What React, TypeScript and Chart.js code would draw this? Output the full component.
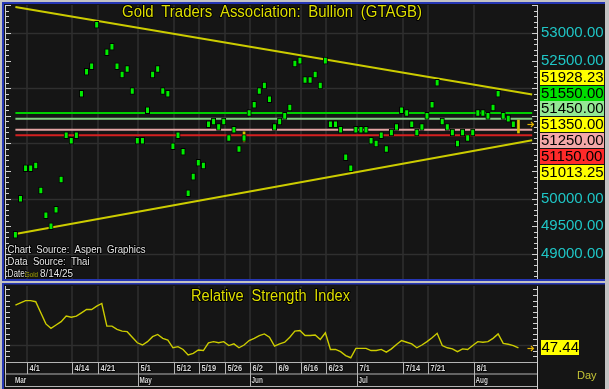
import { useEffect, useRef } from 'react';
import { Chart, registerables } from 'chart.js';

Chart.register(...registerables);

const FONT = '"Liberation Sans", Arial, sans-serif';

// ---------- DATA ----------
const dates = [
  '3/28', '3/31',
  '4/1', '4/2', '4/3', '4/4', '4/7', '4/8', '4/9', '4/10', '4/11', '4/14', '4/15', '4/16', '4/17', '4/18',
  '4/21', '4/22', '4/23', '4/24', '4/25', '4/28', '4/29', '4/30',
  '5/1', '5/2', '5/5', '5/6', '5/7', '5/8', '5/9', '5/12', '5/13', '5/14', '5/15', '5/16',
  '5/19', '5/20', '5/21', '5/22', '5/23', '5/26', '5/27', '5/28', '5/29', '5/30',
  '6/2', '6/3', '6/4', '6/5', '6/6', '6/9', '6/10', '6/11', '6/12', '6/13',
  '6/16', '6/17', '6/18', '6/19', '6/20', '6/23', '6/24', '6/25', '6/26', '6/27', '6/30',
  '7/1', '7/2', '7/3', '7/4', '7/7', '7/8', '7/9', '7/10', '7/11', '7/14', '7/15', '7/16', '7/17', '7/18',
  '7/21', '7/22', '7/23', '7/24', '7/25', '7/28', '7/29', '7/30', '7/31',
  '8/1', '8/4', '8/5', '8/6', '8/7', '8/8', '8/11', '8/12', '8/13', '8/14',
];

const askPrices = [
  49400, 50050, 50600, 50600, 50650, 50200, 49750, 49550, 49850, 50400,
  51200, 51100, 51200, 51950, 52350, 52450, 53200, null, 52700, 52800,
  52450, 52300, 52400, 52000, 51100, 51100, 51650, 52300, 52400, 52000,
  51950, 51000, 51200, 50900, 50150, 50450, 50700, 50650, 51400, 51450,
  51350, 51450, 51150, 51300, 50950, 51150, 51600, 51750, 52000, 52100,
  51850, 51350, 51450, 51550, 51700, 52500, 52550, 52200, 52200, 52300,
  52100, 52550, 51400, 51400, 51300, 50800, 50600, 51300, 51300, 51300,
  51100, 51050, 51200, 50950, 51250, 51350, 51650, 51600, 51400, 51250,
  51350, 51550, 51750, 52150, 51450, 51350, 51250, 51050, 51250, 51150,
  51250, 51600, 51600, 51550, 51700, 51950, 51550, 51500, 51400, null,
];

const bidPrices = [
  49300, 49950, 50500, 50500, 50550, 50100, 49650, 49450, 49750, 50300,
  51100, 51000, 51100, 51850, 52250, 52350, 53100, null, 52600, 52700,
  52350, 52200, 52300, 51900, 51000, 51000, 51550, 52200, 52300, 51900,
  51850, 50900, 51100, 50800, 50050, 50350, 50600, 50550, 51300, 51350,
  51250, 51350, 51050, 51200, 50850, 51050, 51500, 51650, 51900, 52000,
  51750, 51250, 51350, 51450, 51600, 52400, 52450, 52100, 52100, 52200,
  52000, 52450, 51300, 51300, 51200, 50700, 50500, 51200, 51200, 51200,
  51000, 50950, 51100, 50850, 51150, 51250, 51550, 51500, 51300, 51150,
  51250, 51450, 51650, 52050, 51350, 51250, 51150, 50950, 51150, 51050,
  51150, 51500, 51500, 51450, 51600, 51850, 51450, 51400, 51300, null,
];

// thin range marks (date, low, high)
const rangeDates = ['5/30', '8/14'];
const rangeLows = [51030, 51190];
const rangeHighs = [51210, 51425];

const rsiValues = [
  86, 88, 90, 90, 89, 79, 69, 65, 68, 71,
  76, 75, 76, 79, 82, 82, 85, 87.4, 67, 67,
  64, 62.5, 62, 57, 52, 50, 53, 57.5, 59.5, 56,
  54.5, 47.5, 48.5, 46, 41, 42.5, 45.5, 45, 52, 53,
  52, 53, 49.5, 51, 47.5, 50, 54, 56, 58.5, 60,
  57, 49, 51, 52.5, 57, 62.5, 63, 58.5, 58.5, 59,
  55, 61, 46, 46, 44, 40.5, 38.5, 47, 47, 47,
  45, 45, 46, 43.5, 46.5, 50.5, 54, 52.5, 51, 47.5,
  50, 53, 56.5, 60.5, 49.5, 47.5, 46.5, 44, 46.5, 46,
  49.5, 53, 52.5, 53, 56, 60, 51.5, 50.7, 49.5, 47.44,
];

const upperTrend = [53470, 51928.23]; // value at first date, value at last date
const lowerTrend = [49362, 51013.25];
const levelValues = [51550, 51450, 51250, 51150];
const lastPrice = 51350;
const lastRsi = 47.44;

const priceLabelValues = [51928.23, 51550, 51450, 51350, 51250, 51150, 51013.25];
const axisLabelValues = [49000, 49500, 50000, 50500, 51000, 51500, 52000, 52500, 53000];
const gridValues = [49000, 50000, 51000, 52000, 53000];
const rsiTickValues = [40, 45, 50, 55, 60, 65, 70, 75, 80, 85, 90, 95, 100];

const dayTickLabels = ['4/1', '4/14', '4/21', '5/1', '5/12', '5/19', '5/26', '6/2', '6/9', '6/16', '6/23', '7/1', '7/14', '7/21', '8/1'];
const monthTickLabels = ['Mar', 'May', 'Jun', 'Jul', 'Aug'];
const monthTickDates = ['3/28', '5/1', '6/2', '7/1', '8/1'];

// ---------- STYLE ----------
const FRAME_GRAY = '#c3c3c3';
const FRAME_BLUE = '#2536b4';
const PANEL_BG = '#151515';
const GRID = '#2f2f2f';
const AXIS = '#d0d0d0';
const TREND = '#cccc00';
const levelColors = ['#00d000', '#86cc86', '#e4a4a4', '#d42020'];
const priceLabelColors = ['#ffff00', '#00dd00', '#94e894', '#ffff00', '#f4a8a8', '#ff2a2a', '#ffff00'];

const X_MIN = -1.85;
const X_MAX = 102.65;
const LINE_END = 101.7;
const lastIndex = dates.length - 1;

function trendPoints(v: number[]) {
  const slope = (v[1] - v[0]) / lastIndex;
  return [
    { x: 0, y: v[0] },
    { x: LINE_END, y: v[0] + slope * LINE_END },
  ];
}

function drawText(ctx: any, text: string, x: number, y: number, opts: any) {
  ctx.save();
  ctx.font = `${opts.weight || ''} ${opts.size}px ${FONT}`.trim();
  ctx.textBaseline = 'middle';
  ctx.textAlign = opts.align || 'left';
  if (opts.wordSpacing) (ctx as any).wordSpacing = opts.wordSpacing;
  const w = ctx.measureText(text).width;
  let sx = opts.scale || 1;
  if (opts.width) sx = opts.width / w;
  ctx.translate(x, y);
  ctx.scale(sx, 1);
  if (opts.stroke) {
    ctx.strokeStyle = opts.stroke;
    ctx.lineWidth = opts.strokeWidth || 2.5;
    ctx.lineJoin = 'round';
    ctx.strokeText(text, 0, 0);
  }
  ctx.fillStyle = opts.color;
  ctx.fillText(text, 0, 0);
  ctx.restore();
}

function hLine(ctx: any, x1: number, x2: number, y: number) {
  ctx.beginPath();
  ctx.moveTo(x1, y);
  ctx.lineTo(x2, y);
  ctx.stroke();
}
function vLine(ctx: any, x: number, y1: number, y2: number) {
  ctx.beginPath();
  ctx.moveTo(x, y1);
  ctx.lineTo(x, y2);
  ctx.stroke();
}
function arrow(ctx: any, x: number, y: number) {
  ctx.save();
  ctx.strokeStyle = '#e4b400';
  ctx.lineWidth = 1.2;
  hLine(ctx, x, x + 6, y);
  ctx.beginPath();
  ctx.moveTo(x + 3.5, y - 2.5);
  ctx.lineTo(x + 6, y);
  ctx.lineTo(x + 3.5, y + 2.5);
  ctx.stroke();
  ctx.restore();
}

const mainDecor = {
  id: 'mainDecor',
  beforeDraw(chart: any) {
    const { ctx, width, height, chartArea: ca } = chart;
    const x = chart.scales.x;
    const y = chart.scales.y;
    ctx.save();
    ctx.fillStyle = FRAME_GRAY;
    ctx.fillRect(0, 0, width, height);
    ctx.fillStyle = FRAME_BLUE;
    ctx.fillRect(2, 2, width - 6, height - 3);
    ctx.fillStyle = PANEL_BG;
    ctx.fillRect(4, 4, width - 8, height - 7);
    ctx.strokeStyle = GRID;
    ctx.lineWidth = 1.5;
    gridValues.forEach((v) => hLine(ctx, ca.left, ca.right, Math.round(y.getPixelForValue(v)) + 0.5));
    dayTickLabels.forEach((d) => vLine(ctx, Math.round(x.getPixelForValue(dates.indexOf(d))) + 1, ca.top, ca.bottom));
    ctx.restore();
  },
  afterDatasetsDraw(chart: any) {
    const { ctx, chartArea: ca } = chart;
    const x = chart.scales.x;
    const y = chart.scales.y;
    ctx.save();
    ctx.strokeStyle = AXIS;
    ctx.lineWidth = 1;
    vLine(ctx, ca.left - 0.5, ca.top, ca.bottom);
    vLine(ctx, ca.right + 0.5, ca.top, ca.bottom);
    for (let v = 48600; v <= 53500; v += 100) {
      const py = Math.round(y.getPixelForValue(v)) + 0.5;
      const len = v % 500 === 0 ? 5 : 3;
      hLine(ctx, ca.left, ca.left + len, py);
      hLine(ctx, ca.right - len, ca.right, py);
    }
    ctx.restore();

    const anchor = priceLabelValues.indexOf(lastPrice);
    const pos: number[] = priceLabelValues.map((v) => y.getPixelForValue(v));
    for (let i = anchor - 1; i >= 0; i--) pos[i] = Math.min(pos[i], pos[i + 1] - 15.5);
    for (let i = anchor + 1; i < pos.length; i++) pos[i] = Math.max(pos[i], pos[i - 1] + 16);

    axisLabelValues.forEach((v) => {
      const py = y.getPixelForValue(v);
      if (pos.every((p) => Math.abs(p - py) > 10)) {
        drawText(ctx, v.toFixed(2), ca.right + 4, py, { size: 15, color: '#1fc6c6' });
      }
    });
    priceLabelValues.forEach((v, i) => {
      ctx.fillStyle = priceLabelColors[i];
      ctx.fillRect(ca.right + 3, Math.round(pos[i] - 7.5), 64, 15);
      drawText(ctx, v.toFixed(2), ca.right + 4, pos[i] + 0.5, { size: 15, color: '#000' });
    });

    arrow(ctx, x.getPixelForValue(lastIndex) + 9, Math.round(y.getPixelForValue(lastPrice)) + 0.5);

    drawText(ctx, 'Gold Traders Association: Bullion (GTAGB)', 272, 12.5, {
      size: 17, color: '#dede00', width: 300, align: 'center', wordSpacing: '4px', stroke: '#000', strokeWidth: 2,
    });
    const note = { size: 11, color: '#e6e6e6', stroke: '#000', strokeWidth: 2, wordSpacing: '3px' };
    drawText(ctx, 'Chart Source: Aspen Graphics', 7.5, 250, { ...note, width: 138 });
    drawText(ctx, 'Data Source: Thai', 7.5, 262, { ...note, width: 82 });
    drawText(ctx, 'Date:', 7.5, 274, { ...note, width: 19.5 });
    drawText(ctx, 'Gold', 25, 275, { size: 7, color: '#a8a800', width: 13 });
    drawText(ctx, '8/14/25', 40, 274, { ...note, width: 33 });
  },
};

const rsiDecor = {
  id: 'rsiDecor',
  beforeDraw(chart: any) {
    const { ctx, width, height, chartArea: ca } = chart;
    const x = chart.scales.x;
    const y = chart.scales.y;
    ctx.save();
    ctx.fillStyle = FRAME_GRAY;
    ctx.fillRect(0, 0, width, height);
    ctx.fillStyle = FRAME_BLUE;
    ctx.fillRect(2, 1, width - 6, height - 1);
    ctx.fillStyle = PANEL_BG;
    ctx.fillRect(4, 2.5, width - 8, height - 2.5);
    ctx.strokeStyle = GRID;
    ctx.lineWidth = 1.5;
    hLine(ctx, ca.left, ca.right, Math.round(y.getPixelForValue(50)) + 0.5);
    dayTickLabels.forEach((d) => vLine(ctx, Math.round(x.getPixelForValue(dates.indexOf(d))) + 1, ca.top, ca.bottom));
    ctx.restore();
  },
  afterDatasetsDraw(chart: any) {
    const { ctx, chartArea: ca, height } = chart;
    const x = chart.scales.x;
    const y = chart.scales.y;
    ctx.save();
    ctx.strokeStyle = AXIS;
    ctx.lineWidth = 1;
    vLine(ctx, ca.left - 0.5, ca.top, ca.bottom + 25);
    vLine(ctx, ca.right + 0.5, ca.top, height);
    rsiTickValues.forEach((v) => {
      const py = Math.round(y.getPixelForValue(v)) + 0.5;
      hLine(ctx, ca.left, ca.left + 4, py);
      hLine(ctx, ca.right - 4, ca.right, py);
    });

    const row1Top = ca.bottom + 0.5;
    const row2Top = ca.bottom + 12;
    const row2Bottom = ca.bottom + 24.5;
    ctx.strokeStyle = '#b4b4b4';
    hLine(ctx, ca.left - 1, ca.right, row1Top);
    hLine(ctx, ca.left - 1, ca.right, row2Top);
    hLine(ctx, ca.left - 1, ca.right, row2Bottom);
    dayTickLabels.forEach((d) => {
      const px = Math.round(x.getPixelForValue(dates.indexOf(d))) + 1.5;
      vLine(ctx, px, row1Top, row2Top);
      drawText(ctx, d, px + 2, row1Top + 6, { size: 8.5, weight: 'bold', color: '#d6d6d6', scale: 0.88, stroke: '#000', strokeWidth: 1.5 });
    });
    monthTickLabels.forEach((m, i) => {
      const idx = dates.indexOf(monthTickDates[i]);
      const px = idx === 0 ? ca.left - 0.5 : Math.round(x.getPixelForValue(idx)) + 1.5;
      vLine(ctx, px, row2Top, row2Bottom);
      const tx = idx === 0 ? x.getPixelForValue(idx) - 0.5 : px + 1;
      drawText(ctx, m, tx, row2Top + 6.5, { size: 8.5, weight: 'bold', color: '#d6d6d6', scale: 0.75, stroke: '#000', strokeWidth: 1.5 });
    });
    ctx.restore();

    drawText(ctx, 'Relative Strength Index', 270.5, 14.5, {
      size: 16, color: '#dede00', width: 159, align: 'center', wordSpacing: '4px', stroke: '#000', strokeWidth: 2,
    });

    const ly = y.getPixelForValue(lastRsi);
    ctx.fillStyle = '#ffff00';
    ctx.fillRect(ca.right + 4, Math.round(ly - 7.5), 38, 15);
    drawText(ctx, lastRsi.toFixed(2), ca.right + 4.5, ly + 0.5, { size: 15, color: '#000' });
    arrow(ctx, x.getPixelForValue(lastIndex) + 9, Math.round(ly) + 0.5);

    drawText(ctx, 'Day', ca.right + 40, ca.bottom + 13.5, { size: 11, color: '#c4c436' });
  },
};

export default function App() {
  const mainRef = useRef<HTMLCanvasElement | null>(null);
  const rsiRef = useRef<HTMLCanvasElement | null>(null);

  useEffect(() => {
    const candleData: any[] = [];
    dates.forEach((_, i) => {
      if (bidPrices[i] != null && askPrices[i] != null) candleData.push({ x: i, y: [bidPrices[i], askPrices[i]] });
    });
    const rangeData = rangeDates.map((d, i) => ({ x: dates.indexOf(d), y: [rangeLows[i], rangeHighs[i]] }));

    const main = new Chart(mainRef.current as HTMLCanvasElement, {
      type: 'bar',
      data: {
        datasets: [
          {
            type: 'bar', label: 'GTAGB', data: candleData, backgroundColor: '#00ec00',
            barThickness: 3, grouped: false, borderWidth: 1, borderColor: '#000',
            borderSkipped: false, inflateAmount: 1, order: 0,
          } as any,
          {
            type: 'bar', label: 'Range', data: rangeData, backgroundColor: '#d8c400',
            barThickness: 2, grouped: false, borderWidth: 0, order: 0,
          } as any,
          ...levelValues.map((v, i) => ({
            type: 'line', label: String(v), data: [{ x: 0, y: v }, { x: LINE_END, y: v }],
            borderColor: levelColors[i], borderWidth: 2, pointRadius: 0, order: 1,
          })),
          {
            type: 'line', label: 'Upper', data: trendPoints(upperTrend), borderColor: TREND,
            borderWidth: 2, pointRadius: 0, order: 1,
          } as any,
          {
            type: 'line', label: 'Lower', data: trendPoints(lowerTrend), borderColor: TREND,
            borderWidth: 2, pointRadius: 0, order: 1,
          } as any,
        ],
      },
      options: {
        responsive: false,
        animation: false,
        events: [],
        layout: { padding: { left: 6, right: 72, top: 5, bottom: 3 } },
        plugins: { legend: { display: false }, tooltip: { enabled: false } },
        scales: {
          x: { type: 'linear', display: false, min: X_MIN, max: X_MAX, offset: false },
          y: { type: 'linear', display: false, min: 48547, max: 53507 },
        },
      } as any,
      plugins: [mainDecor],
    });

    const rsi = new Chart(rsiRef.current as HTMLCanvasElement, {
      type: 'line',
      data: {
        datasets: [
          {
            label: 'RSI', data: rsiValues.map((v, i) => ({ x: i, y: v })), borderColor: '#cccc00',
            borderWidth: 1.4, pointRadius: 0, tension: 0, fill: false,
          },
        ],
      },
      options: {
        responsive: false,
        animation: false,
        events: [],
        layout: { padding: { left: 6, right: 72, top: 4, bottom: 27 } },
        plugins: { legend: { display: false }, tooltip: { enabled: false } },
        scales: {
          x: { type: 'linear', display: false, min: X_MIN, max: X_MAX },
          y: { type: 'linear', display: false, min: 34.68, max: 103.15 },
        },
      } as any,
      plugins: [rsiDecor],
    });

    return () => {
      main.destroy();
      rsi.destroy();
    };
  }, []);

  return (
    <div style={{ position: 'fixed', left: 0, top: 0, width: 609, height: 389, background: FRAME_GRAY, overflow: 'hidden' }}>
      <canvas ref={mainRef} width={609} height={282} style={{ position: 'absolute', left: 0, top: 0, width: 609, height: 282, display: 'block' }} />
      <canvas ref={rsiRef} width={609} height={107} style={{ position: 'absolute', left: 0, top: 282, width: 609, height: 107, display: 'block' }} />
    </div>
  );
}
